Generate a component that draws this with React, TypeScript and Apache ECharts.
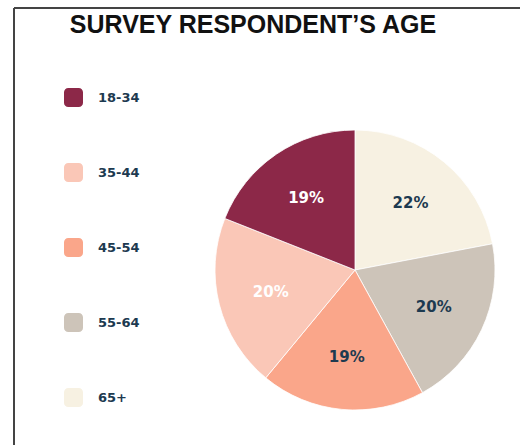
import React, { useEffect, useRef } from "react";
import * as echarts from "echarts";

const titleText = "SURVEY RESPONDENT\u2019S AGE";
const legendOrder = ["18-34", "35-44", "45-54", "55-64", "65+"];
// clockwise from 12 o'clock
const sliceNames = ["65+", "55-64", "45-54", "35-44", "18-34"];
const sliceValues = [22, 20, 19, 20, 19];
const sliceColors = ["#F7F1E2", "#CDC4B9", "#FAA68A", "#FAC7B7", "#8C2848"];
const labelColors = ["#1D3A50", "#1D3A50", "#1D3A50", "#FFFFFF", "#FFFFFF"];

export default function App() {
  const ref = useRef<HTMLDivElement>(null);
  useEffect(() => {
    if (!ref.current) return;
    const chart = echarts.init(ref.current, null, { renderer: "svg" });
    const data = sliceNames.map((n, i) => ({
      name: n,
      value: sliceValues[i],
      itemStyle: { color: sliceColors[i] },
    }));
    const labelData = sliceNames.map((n, i) => ({
      name: n,
      value: sliceValues[i],
      label: { color: labelColors[i] },
    }));
    chart.setOption({
      animation: false,
      backgroundColor: "#FFFFFF",
      graphic: [
        {
          type: "line",
          shape: { x1: 14, y1: 8, x2: 520, y2: 8 },
          style: { stroke: "#444444", lineWidth: 2 },
        },
        {
          type: "line",
          shape: { x1: 14, y1: 8, x2: 14, y2: 445 },
          style: { stroke: "#444444", lineWidth: 2 },
        },
        {
          type: "text",
          x: 253,
          y: 24,
          style: {
            text: titleText,
            fontFamily: "Liberation Sans",
            fontWeight: "bold",
            fontSize: 25,
            fill: "#111111",
            textAlign: "center",
            textVerticalAlign: "middle",
          },
        },
      ],
      legend: {
        orient: "vertical",
        left: 57,
        top: 81,
        data: legendOrder,
        icon: "roundRect",
        itemWidth: 21,
        itemHeight: 21,
        itemGap: 52,
        selectedMode: false,
        textStyle: {
          fontFamily: "DejaVu Sans",
          fontWeight: "bold",
          fontSize: 13,
          color: "#1D3A50",
          padding: [0, 0, 0, 9],
        },
      },
      series: [
        {
          type: "pie",
          radius: [0, 140],
          center: [355, 270],
          startAngle: 90,
          clockwise: true,
          data,
          label: { show: false },
          labelLine: { show: false },
          itemStyle: { borderColor: "#FFFFFF", borderWidth: 0.8 },
          silent: true,
        },
        {
          type: "pie",
          radius: [0, 168],
          center: [355, 270],
          startAngle: 90,
          clockwise: true,
          data: labelData,
          itemStyle: { color: "rgba(0,0,0,0)" },
          label: {
            show: true,
            position: "inside",
            formatter: "{c}%",
            fontFamily: "DejaVu Sans",
            fontWeight: "bold",
            fontSize: 15,
          },
          labelLine: { show: false },
          silent: true,
          legendHoverLink: false,
        },
      ],
    });
    return () => chart.dispose();
  }, []);
  return (
    <div
      ref={ref}
      style={{ position: "absolute", left: 0, top: 0, width: 520, height: 445 }}
    />
  );
}
